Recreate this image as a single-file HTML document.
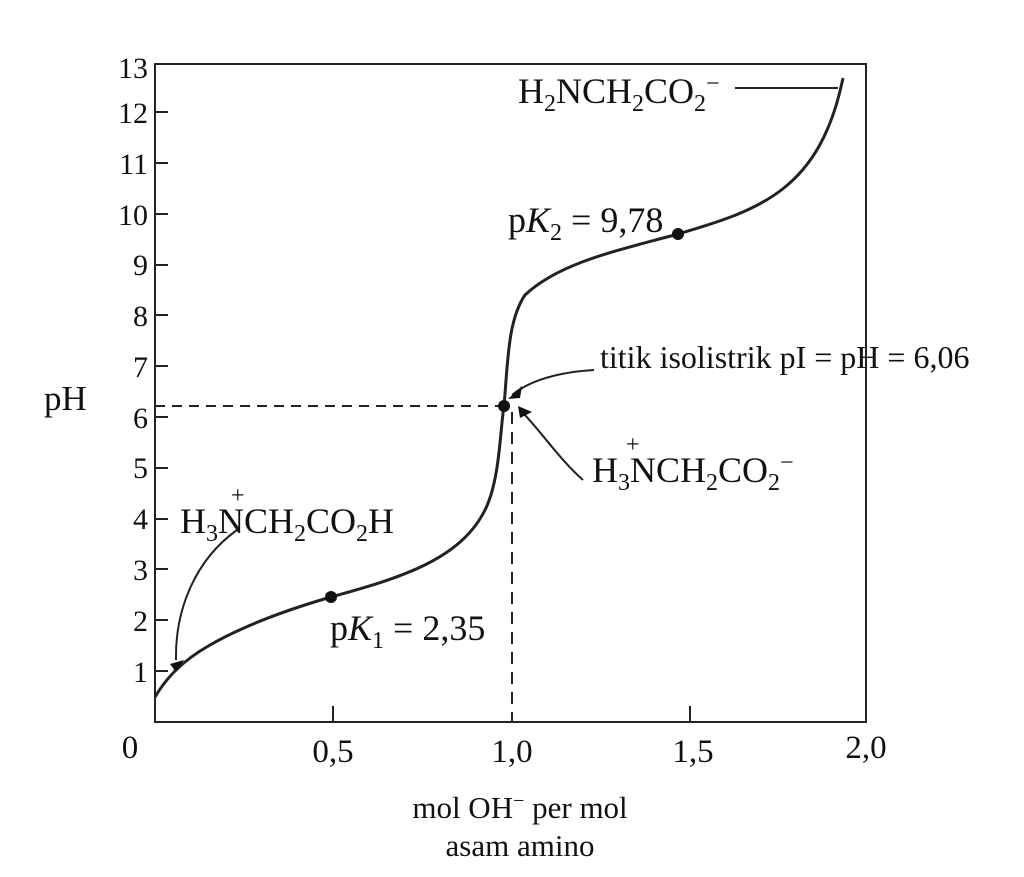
<!DOCTYPE html>
<html><head><style>
body{margin:0;background:#fff}
svg text{font-family:"Liberation Serif",serif;fill:#111}
</style></head><body>
<svg width="1024" height="872" viewBox="0 0 1024 872" xmlns="http://www.w3.org/2000/svg">
<g stroke="#222" stroke-width="2" fill="none">
<rect x="155" y="64" width="711" height="658"/>
<g>
<line x1="155" y1="671" x2="168" y2="671"/><line x1="155" y1="620" x2="168" y2="620"/>
<line x1="155" y1="569" x2="168" y2="569"/><line x1="155" y1="519" x2="168" y2="519"/>
<line x1="155" y1="468" x2="168" y2="468"/><line x1="155" y1="417" x2="168" y2="417"/>
<line x1="155" y1="366" x2="168" y2="366"/><line x1="155" y1="315" x2="168" y2="315"/>
<line x1="155" y1="265" x2="168" y2="265"/><line x1="155" y1="214" x2="168" y2="214"/>
<line x1="155" y1="163" x2="168" y2="163"/><line x1="155" y1="112" x2="168" y2="112"/>
</g>
<line x1="333" y1="722" x2="333" y2="706"/><line x1="690" y1="722" x2="690" y2="706"/>
<line x1="155" y1="406" x2="504" y2="406" stroke-dasharray="10,7"/>
<line x1="512" y1="412" x2="512" y2="722" stroke-dasharray="12,8"/>
<path d="M155,697 C165,680 180,662 210,645 C250,622 300,606 331,597 C400,578 460,560 485,510 C500,480 500,430 504,406 C508,360 508,320 525,295 C560,262 620,250 678,234 C760,210 820,190 843,78" stroke-width="3"/>
<line x1="735" y1="88" x2="838" y2="88"/>
<path d="M237,530 C195,560 175,610 176,660"/>
<path d="M594,370 C560,372 530,380 512,395"/>
<path d="M583,480 C560,460 540,430 522,412"/>
</g>
<g fill="#111">
<polygon points="170,664 184,660 176,672"/>
<polygon points="508,399 522,386 520,398"/>
<polygon points="518,406 532,412 520,418"/>
<circle cx="331" cy="597" r="6"/><circle cx="504" cy="406" r="6"/><circle cx="678" cy="234" r="6"/>
</g>
<g font-size="30" text-anchor="end">
<text x="148" y="78">13</text><text x="148" y="123">12</text><text x="148" y="174">11</text>
<text x="148" y="225">10</text><text x="148" y="275">9</text><text x="148" y="326">8</text>
<text x="148" y="377">7</text><text x="148" y="428">6</text><text x="148" y="478">5</text>
<text x="148" y="529">4</text><text x="148" y="580">3</text><text x="148" y="631">2</text>
<text x="148" y="682">1</text>
</g>
<g font-size="33" text-anchor="middle">
<text x="130" y="758">0</text><text x="333" y="762">0,5</text><text x="512" y="762">1,0</text>
<text x="693" y="762">1,5</text><text x="866" y="758">2,0</text>
<text x="520" y="818" font-size="31">mol OH<tspan font-size="20" dy="-11">−</tspan><tspan dy="11"> per mol</tspan></text>
<text x="520" y="856" font-size="31">asam amino</text>
</g>
<text x="44" y="410" font-size="35">pH</text>
<g font-size="36">
<text x="518" y="103">H<tspan font-size="24" dy="8">2</tspan><tspan dy="-8">NCH</tspan><tspan font-size="24" dy="8">2</tspan><tspan dy="-8">CO</tspan><tspan font-size="24" dy="8">2</tspan><tspan font-size="24" dy="-20">−</tspan></text>
<text x="508" y="232">p<tspan font-style="italic">K</tspan><tspan font-size="24" dy="8">2</tspan><tspan dy="-8"> = 9,78</tspan></text>
<text x="600" y="368" font-size="32">titik isolistrik pI = pH = 6,06</text>
<text x="592" y="482">H<tspan font-size="24" dy="8">3</tspan><tspan dy="-8">NCH</tspan><tspan font-size="24" dy="8">2</tspan><tspan dy="-8">CO</tspan><tspan font-size="24" dy="8">2</tspan><tspan font-size="24" dy="-20">−</tspan></text>
<text x="626" y="452" font-size="24">+</text>
<text x="180" y="533">H<tspan font-size="24" dy="8">3</tspan><tspan dy="-8">NCH</tspan><tspan font-size="24" dy="8">2</tspan><tspan dy="-8">CO</tspan><tspan font-size="24" dy="8">2</tspan><tspan dy="-8">H</tspan></text>
<text x="231" y="503" font-size="24">+</text>
<text x="330" y="640">p<tspan font-style="italic">K</tspan><tspan font-size="24" dy="8">1</tspan><tspan dy="-8"> = 2,35</tspan></text>
</g>
</svg>
</body></html>
